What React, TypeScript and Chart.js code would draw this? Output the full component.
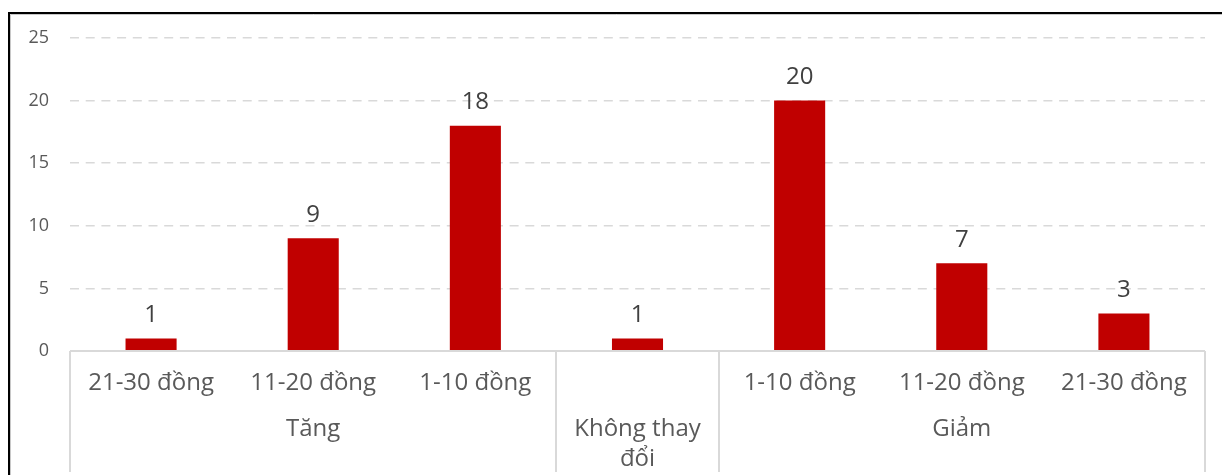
import React, { useEffect, useRef } from "react";
import { Chart, registerables } from "chart.js";

Chart.register(...registerables);

// Price-change buckets (first level of the category axis)
const categories = ["21-30 đồng", "11-20 đồng", "1-10 đồng", "", "1-10 đồng", "11-20 đồng", "21-30 đồng"];
// Number of cases per bucket
const counts = [1, 9, 18, 1, 20, 7, 3];
// Second level of the category axis: group names (lines) and how many buckets each spans
const groupLabels = [["Tăng"], ["Không thay", "đổi"], ["Giảm"]];
const groupSizes = [3, 1, 3];
// Value axis
const yMax = 25;
const yStep = 5;

const FONT = "'Open Sans', 'Noto Sans', sans-serif";
const BAR = "#C00000";
const AXIS_TEXT = "#595959";
const LABEL_TEXT = "#404040";
const LINE = "#d9d9d9";

const decorPlugin = {
  id: "decor",
  afterDraw(chart: any) {
    const ctx = chart.ctx;
    const x = chart.scales.x;
    const area = chart.chartArea;
    const n = chart.data.labels.length;
    const w = (x.right - x.left) / n;

    ctx.save();

    // value labels above the bars
    const meta = chart.getDatasetMeta(0);
    ctx.font = `24px ${FONT}`;
    ctx.fillStyle = LABEL_TEXT;
    ctx.textAlign = "center";
    ctx.textBaseline = "alphabetic";
    meta.data.forEach((bar: any, i: number) => {
      ctx.fillText(String(chart.data.datasets[0].data[i]), bar.x, bar.y - 16.5);
    });

    // first-level category labels
    ctx.fillStyle = AXIS_TEXT;
    chart.data.labels.forEach((lab: string, i: number) => {
      if (lab) ctx.fillText(lab, x.getPixelForValue(i), area.bottom + 39);
    });

    // group labels and separators
    ctx.strokeStyle = LINE;
    ctx.lineWidth = 2;
    let k = 0;
    const bounds = [x.left];
    groupSizes.forEach((size, g) => {
      const cx = x.left + (k + size / 2) * w;
      const lines = groupLabels[g];
      lines.forEach((ln, j) => ctx.fillText(ln, cx, area.bottom + 85 + j * 30));
      k += size;
      bounds.push(x.left + k * w);
    });
    bounds.forEach((bx) => {
      const px = Math.round(bx);
      ctx.beginPath();
      ctx.moveTo(px, area.bottom);
      ctx.lineTo(px, area.bottom + 121);
      ctx.stroke();
    });

    // axis line
    ctx.lineWidth = 2;
    ctx.beginPath();
    ctx.moveTo(x.left, Math.round(area.bottom));
    ctx.lineTo(x.right, Math.round(area.bottom));
    ctx.stroke();

    // outer frame
    ctx.strokeStyle = "#c8c8c8";
    ctx.lineWidth = 1;
    ctx.beginPath();
    ctx.moveTo(10.5, chart.height);
    ctx.lineTo(10.5, 14.5);
    ctx.lineTo(chart.width, 14.5);
    ctx.stroke();
    ctx.strokeStyle = "#000";
    ctx.lineWidth = 2;
    ctx.beginPath();
    ctx.moveTo(9, chart.height);
    ctx.lineTo(9, 13);
    ctx.lineTo(chart.width, 13);
    ctx.stroke();

    ctx.restore();
  },
};

export default function App() {
  const ref = useRef<HTMLCanvasElement>(null);

  useEffect(() => {
    if (!ref.current) return;
    const chart = new Chart(ref.current, {
      type: "bar",
      data: {
        labels: categories,
        datasets: [
          {
            data: counts,
            backgroundColor: BAR,
            categoryPercentage: 1,
            barPercentage: 0.315,
          },
        ],
      },
      options: {
        animation: false,
        responsive: false,
        layout: { padding: { top: 38, right: 17, left: 0, bottom: 0 } },
        plugins: { legend: { display: false }, tooltip: { enabled: false } },
        scales: {
          x: {
            ticks: { display: false },
            grid: { display: false },
            border: { display: false },
            afterFit: (s: any) => {
              s.height = 124;
            },
          },
          y: {
            min: 0,
            max: yMax,
            ticks: {
              stepSize: yStep,
              padding: 21,
              color: AXIS_TEXT,
              font: { family: FONT, size: 18 },
            },
            grid: {
              drawTicks: false,
              lineWidth: 1.5,
              color: (c: any) => (c.tick && c.tick.value === 0 ? "rgba(0,0,0,0)" : LINE),
            },
            border: { display: false, dash: [9, 6.7] },
            afterFit: (s: any) => {
              s.width = 70;
            },
          },
        },
      },
      plugins: [decorPlugin],
    });
    return () => chart.destroy();
  }, []);

  return (
    <div style={{ position: "fixed", left: 0, top: 0, width: 1222, height: 475, background: "#fff" }}>
      <canvas ref={ref} width={1222} height={475} />
    </div>
  );
}
